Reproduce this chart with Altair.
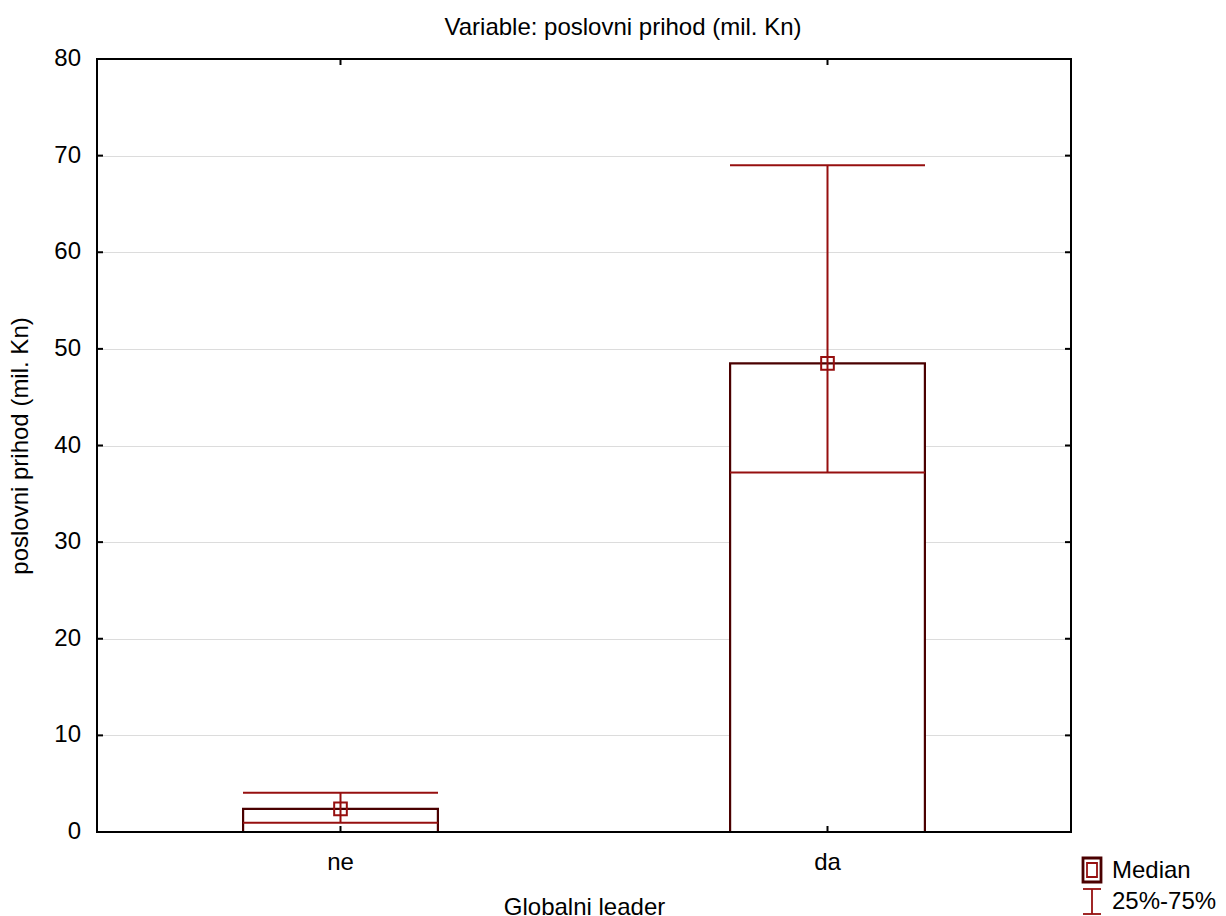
import altair as alt
import pandas as pd

categories = ["ne", "da"]
medians = [2.4, 48.5]
q25 = [0.95, 37.2]
q75 = [4.05, 69.0]
y_ticks = [0, 10, 20, 30, 40, 50, 60, 70, 80]
legend_labels = ["Median", "25%-75%"]

W, H = 974, 773
FONT = "Liberation Sans"
FS = 24
DARK = "#4a0000"
RED = "#960f0f"

df = pd.DataFrame({"g": categories, "med": medians, "lo": q25, "hi": q75, "zero": [0, 0]})
ticks_df = pd.DataFrame({"v": y_ticks})

xscale = alt.Scale(domain=categories, paddingInner=0.6, paddingOuter=0.3)
yscale = alt.Scale(domain=[0, 80], nice=False)

X = alt.X("g:N", scale=xscale, sort=categories,
          axis=alt.Axis(title="Globalni leader", labelAngle=0, ticks=False, domain=False,
                        labelFontSize=FS, labelFont=FONT, labelColor="black", labelPadding=18,
                        titleFontSize=FS, titleFont=FONT, titleFontWeight="normal",
                        titleColor="black", titlePadding=21))
Y = alt.Y("med:Q", scale=yscale,
          axis=alt.Axis(title="poslovni prihod (mil. Kn)", values=[10, 20, 30, 40, 50, 60, 70],
                        ticks=False, domain=False, labels=False,
                        grid=True, gridColor="#dcdcdc", gridWidth=1,
                        titleFontSize=FS, titleFont=FONT, titleFontWeight="normal",
                        titleColor="black", titlePadding=65))

base = alt.Chart(df)

bars = base.mark_bar(fill="white", stroke=DARK, strokeWidth=2.2).encode(
    x=X, y=Y, y2="zero:Q")

# y tick labels (all 0..80)
ylabels = alt.Chart(ticks_df).mark_text(align="right", baseline="middle", font=FONT,
                                        fontSize=FS, color="black").encode(
    y=alt.Y("v:Q", scale=yscale), x=alt.value(-16), text=alt.Text("v:Q"))

whisk = base.mark_rule(color=RED, strokeWidth=2).encode(
    x=alt.X("g:N", scale=xscale, sort=categories),
    y=alt.Y("lo:Q", scale=yscale), y2="hi:Q")

cap_lo = base.mark_tick(color=RED, thickness=2, size=195, orient="horizontal", opacity=1).encode(
    x=alt.X("g:N", scale=xscale, sort=categories), y=alt.Y("lo:Q", scale=yscale))
cap_hi = base.mark_tick(color=RED, thickness=2, size=195, orient="horizontal", opacity=1).encode(
    x=alt.X("g:N", scale=xscale, sort=categories), y=alt.Y("hi:Q", scale=yscale))

med_pt = base.mark_point(shape="square", size=160, filled=False, stroke=RED, strokeWidth=2,
                         opacity=1).encode(
    x=alt.X("g:N", scale=xscale, sort=categories), y=alt.Y("med:Q", scale=yscale))

# inward ticks on all four sides
tl = alt.Chart(ticks_df).mark_rule(color="black", strokeWidth=2).encode(
    y=alt.Y("v:Q", scale=yscale), x=alt.value(0), x2=alt.value(6))
tr = alt.Chart(ticks_df).mark_rule(color="black", strokeWidth=2).encode(
    y=alt.Y("v:Q", scale=yscale), x=alt.value(W - 6), x2=alt.value(W))
tb = base.mark_rule(color="black", strokeWidth=2).encode(
    x=alt.X("g:N", scale=xscale, sort=categories), y=alt.value(H - 6), y2=alt.value(H))
tt = base.mark_rule(color="black", strokeWidth=2).encode(
    x=alt.X("g:N", scale=xscale, sort=categories), y=alt.value(0), y2=alt.value(6))

# frame
frame = alt.Chart(ticks_df.iloc[:1]).mark_rect(fill=None, stroke="black", strokeWidth=2).encode(
    x=alt.value(0), x2=alt.value(W), y=alt.value(0), y2=alt.value(H))

# custom legend
leg_df = pd.DataFrame({"label": legend_labels})
leg_outer = alt.Chart(leg_df.iloc[:1]).mark_rect(fill="white", stroke=DARK, strokeWidth=2.8).encode(
    x=alt.value(986), x2=alt.value(1004), y=alt.value(799), y2=alt.value(823))
leg_inner = alt.Chart(leg_df.iloc[:1]).mark_rect(fill="white", stroke=RED, strokeWidth=1.8).encode(
    x=alt.value(990), x2=alt.value(1000), y=alt.value(804), y2=alt.value(818))
leg_v = alt.Chart(leg_df.iloc[1:]).mark_rule(color=RED, strokeWidth=1.8).encode(
    x=alt.value(995), y=alt.value(830), y2=alt.value(855))
leg_c1 = alt.Chart(leg_df.iloc[1:]).mark_rule(color=RED, strokeWidth=1.8).encode(
    x=alt.value(986), x2=alt.value(1004), y=alt.value(830))
leg_c2 = alt.Chart(leg_df.iloc[1:]).mark_rule(color=RED, strokeWidth=1.8).encode(
    x=alt.value(986), x2=alt.value(1004), y=alt.value(855))
leg_t1 = alt.Chart(leg_df.iloc[:1]).mark_text(align="left", baseline="middle", font=FONT,
                                               fontSize=FS, color="black").encode(
    x=alt.value(1015), y=alt.value(812), text="label:N")
leg_t2 = alt.Chart(leg_df.iloc[1:]).mark_text(align="left", baseline="middle", font=FONT,
                                               fontSize=FS, color="black").encode(
    x=alt.value(1015), y=alt.value(843), text="label:N")

chart = alt.layer(
    bars, ylabels, whisk, cap_lo, cap_hi, med_pt, frame, tl, tr, tb, tt,
    leg_outer, leg_inner, leg_v, leg_c1, leg_c2, leg_t1, leg_t2
).properties(
    width=W, height=H,
    background="white",
    title=alt.Title("Variable: poslovni prihod (mil. Kn)", font=FONT, fontSize=FS,
                    fontWeight="normal", color="black", anchor="middle", dx=39, offset=7),
    autosize=alt.AutoSizeParams(type="none"),
    padding={"left": 89, "top": 51, "right": 145, "bottom": 92},
).configure_view(stroke=None)

chart.save("out.html", embed_options={"renderer": "svg", "actions": False})
